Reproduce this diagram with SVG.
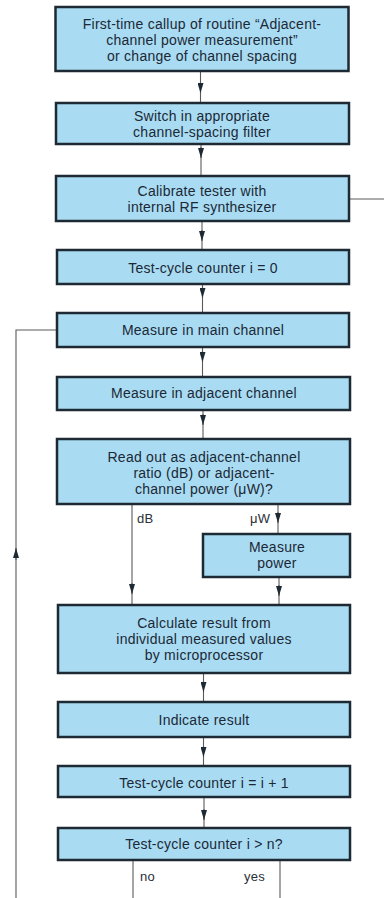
<svg xmlns="http://www.w3.org/2000/svg" width="384" height="898" viewBox="0 0 384 898">
<defs>
<style>
.box{fill:#a9dcf2;stroke:#1e2a33;stroke-width:2.5}
.t{font-family:"Liberation Sans",Arial,sans-serif;font-size:14px;fill:#1c2836;text-anchor:middle;letter-spacing:0.25px}
.lbl{font-family:"Liberation Sans",Arial,sans-serif;font-size:13px;fill:#2a2f36;letter-spacing:0.2px}
.ln{fill:none;stroke:#5a5a5a;stroke-width:1.1}
.ar{fill:none;stroke:#5a5a5a;stroke-width:1.1;marker-end:url(#ah)}
</style>
<marker id="ah" markerUnits="userSpaceOnUse" markerWidth="10" markerHeight="6" refX="10" refY="3" orient="auto">
<path d="M0,0 L10,3 L0,6 z" fill="#1e2a33"/>
</marker>
</defs>
<rect width="384" height="898" fill="#ffffff"/>
<g id="connectors">
<path class="ln" d="M200.5,71 V103"/><path class="ar" d="M200.5,82 V93"/>
<path class="ln" d="M201,144 V176"/><path class="ar" d="M201,147 V158"/>
<path class="ln" d="M349,199 H384"/>
<path class="ln" d="M202,221 V250"/><path class="ar" d="M202,230 V241"/>
<path class="ln" d="M202.5,284 V313"/><path class="ar" d="M202.5,287 V298"/>
<path class="ln" d="M57,330 H16 V898"/><path class="ar" d="M16,560 V548"/>
<path class="ln" d="M202.5,347 V377"/><path class="ar" d="M202.5,351 V362"/>
<path class="ln" d="M203,410 V439"/><path class="ar" d="M203,414 V425"/>
<path class="ln" d="M132,504 V605"/><path class="ar" d="M132,583 V594"/>
<path class="ln" d="M278,504 V534"/><path class="ar" d="M278,512 V523"/>
<path class="ln" d="M279,577 V605"/><path class="ar" d="M279,585 V596"/>
<path class="ln" d="M203.5,673 V702"/><path class="ar" d="M203.5,681 V692"/>
<path class="ln" d="M203.5,737 V766"/><path class="ar" d="M203.5,746 V757"/>
<path class="ln" d="M204,797 V828"/><path class="ar" d="M204,809 V820"/>
<path class="ln" d="M133,860 V898"/>
<path class="ln" d="M280,860 V898"/>
<text class="lbl" x="137" y="523">dB</text>
<text class="lbl" x="250" y="523">μW</text>
<text class="lbl" x="140" y="881">no</text>
<text class="lbl" x="244" y="881">yes</text>
</g>
<g id="n1"><rect class="box" x="55.5" y="7" width="293" height="64"/>
<text class="t" x="202" y="29">First-time callup of routine “Adjacent-</text>
<text class="t" x="202" y="45">channel power measurement”</text>
<text class="t" x="202" y="61">or change of channel spacing</text></g>
<g id="n2"><rect class="box" x="56" y="103" width="293" height="41"/>
<text class="t" x="202" y="121">Switch in appropriate</text>
<text class="t" x="202" y="137">channel-spacing filter</text></g>
<g id="n3"><rect class="box" x="56" y="176" width="293" height="45"/>
<text class="t" x="202" y="196">Calibrate tester with</text>
<text class="t" x="202" y="212">internal RF synthesizer</text></g>
<g id="n4"><rect class="box" x="57" y="250" width="292" height="34"/>
<text class="t" x="203" y="273">Test-cycle counter i = 0</text></g>
<g id="n5"><rect class="box" x="57" y="313" width="292" height="34"/>
<text class="t" x="203" y="335">Measure in main channel</text></g>
<g id="n6"><rect class="box" x="57" y="377" width="293" height="33"/>
<text class="t" x="204" y="398">Measure in adjacent channel</text></g>
<g id="n7"><rect class="box" x="57" y="439" width="293" height="65"/>
<text class="t" x="204" y="462">Read out as adjacent-channel</text>
<text class="t" x="204" y="478">ratio (dB) or adjacent-</text>
<text class="t" x="204" y="494">channel power (μW)?</text></g>
<g id="n8"><rect class="box" x="203" y="534" width="147" height="43"/>
<text class="t" x="277" y="552">Measure</text>
<text class="t" x="277" y="568">power</text></g>
<g id="n9"><rect class="box" x="58" y="605" width="292" height="68"/>
<text class="t" x="204" y="628">Calculate result from</text>
<text class="t" x="204" y="644">individual measured values</text>
<text class="t" x="204" y="660">by microprocessor</text></g>
<g id="n10"><rect class="box" x="58" y="702" width="292" height="35"/>
<text class="t" x="204" y="725">Indicate result</text></g>
<g id="n11"><rect class="box" x="58" y="766" width="292" height="31"/>
<text class="t" x="204" y="788">Test-cycle counter i = i + 1</text></g>
<g id="n12"><rect class="box" x="58" y="828" width="292" height="32"/>
<text class="t" x="204" y="849">Test-cycle counter i &gt; n?</text></g>
</svg>
